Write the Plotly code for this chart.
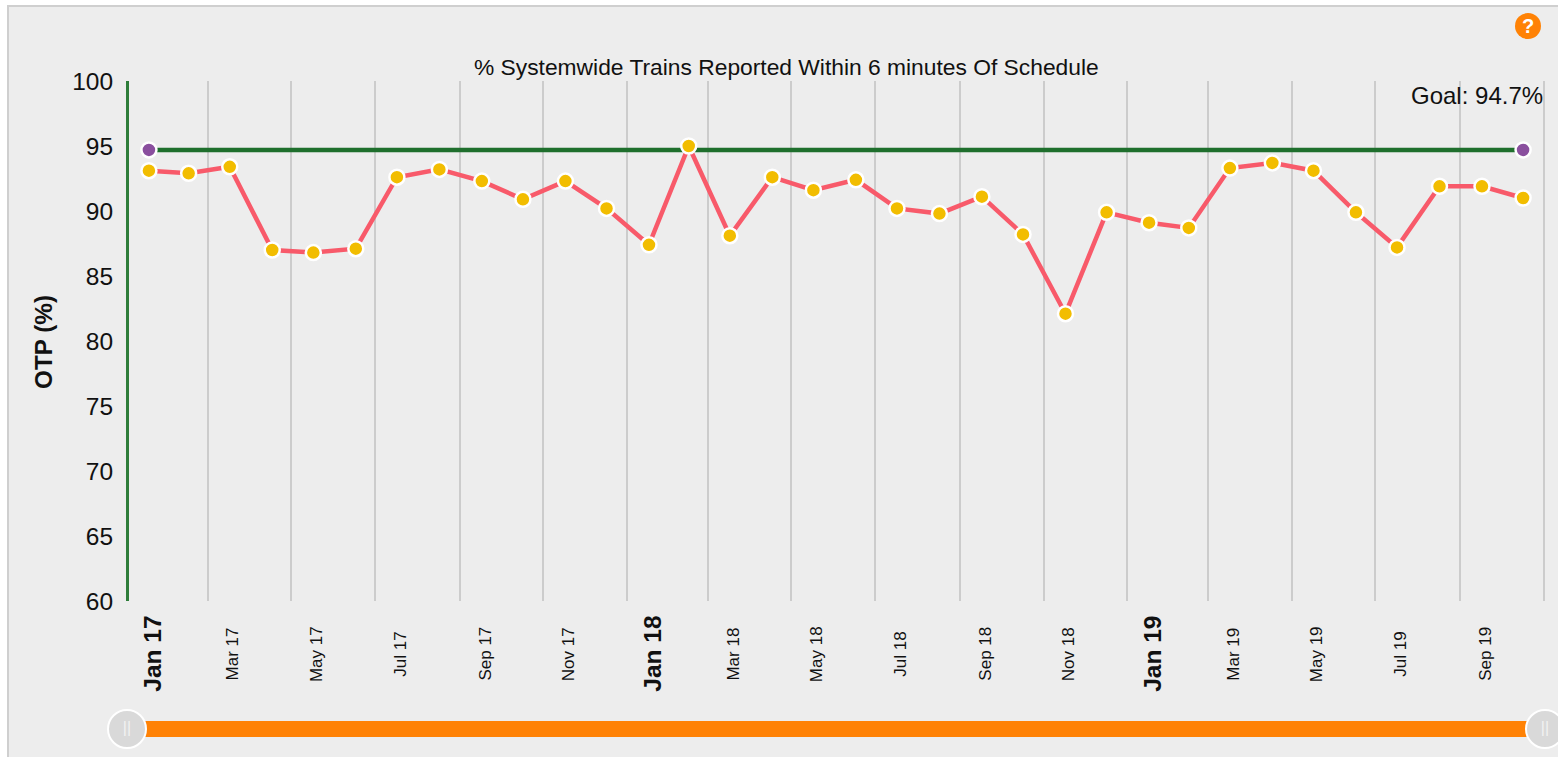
import plotly.graph_objects as go

W, H = 1558, 757
FONT = "Liberation Sans"

# ---- data -------------------------------------------------------------
months = ["2017-01","2017-02","2017-03","2017-04","2017-05","2017-06","2017-07","2017-08","2017-09","2017-10","2017-11","2017-12",
          "2018-01","2018-02","2018-03","2018-04","2018-05","2018-06","2018-07","2018-08","2018-09","2018-10","2018-11","2018-12",
          "2019-01","2019-02","2019-03","2019-04","2019-05","2019-06","2019-07","2019-08","2019-09","2019-10"]
otp = [93.1,92.9,93.4,87.0,86.8,87.1,92.6,93.2,92.3,90.9,92.3,90.2,
       87.4,95.0,88.1,92.6,91.6,92.4,90.2,89.8,91.1,88.2,82.1,89.9,
       89.1,88.7,93.3,93.7,93.1,89.9,87.2,91.9,91.9,91.0]
goal = 94.7
tick_months = ["2017-01","2017-03","2017-05","2017-07","2017-09","2017-11",
               "2018-01","2018-03","2018-05","2018-07","2018-09","2018-11",
               "2019-01","2019-03","2019-05","2019-07","2019-09","2019-11"]
tick_labels = ["Jan 17","Mar 17","May 17","Jul 17","Sep 17","Nov 17",
               "Jan 18","Mar 18","May 18","Jul 18","Sep 18","Nov 18",
               "Jan 19","Mar 19","May 19","Jul 19","Sep 19"]
y_ticks = [60,65,70,75,80,85,90,95,100]
x_start, x_end = "2017-01-01", "2019-11-02"

point_dates = [m + ("-15" if m.endswith("-02") else "-17") for m in months]
tick_dates = [m + "-01" for m in tick_months]
label_dates = [m + "-19" for m in tick_months[:len(tick_labels)]]


def px(v):
    return v / W


def py(v):
    return 1 - v / H


fig = go.Figure()

# goal line
fig.add_trace(go.Scatter(x=[point_dates[0], point_dates[-1]], y=[goal, goal], mode="lines+markers",
                         line=dict(color="#1f6f2d", width=4.5),
                         marker=dict(size=15, color="#8a4f9e", line=dict(color="white", width=2.5)),
                         cliponaxis=False, hoverinfo="skip", showlegend=False))
# series
fig.add_trace(go.Scatter(x=point_dates, y=otp, mode="lines+markers",
                         line=dict(color="#f85a6a", width=4.5),
                         marker=dict(size=15, color="#f2bd00", line=dict(color="white", width=2.5)),
                         cliponaxis=False, showlegend=False))
# range slider look-alike
fig.add_trace(go.Scatter(x=[x_start, x_end], y=[0, 0], xaxis="x2", yaxis="y2", mode="lines",
                         line=dict(color="#ff8205", width=16),
                         cliponaxis=False, hoverinfo="skip", showlegend=False))
fig.add_trace(go.Scatter(x=[x_start, x_end], y=[0, 0], xaxis="x2", yaxis="y2", mode="markers+text",
                         marker=dict(size=38, color="#d9d9d9", line=dict(color="white", width=2)),
                         text=["||", "||"], textposition="middle center",
                         textfont=dict(family=FONT, size=16, color="#f2f2f2"),
                         cliponaxis=False, hoverinfo="skip", showlegend=False))

annotations = [
    dict(text="% Systemwide Trains Reported Within 6 minutes Of Schedule", xref="paper", yref="paper",
         x=px(786), y=py(67), xanchor="center", yanchor="middle", showarrow=False,
         font=dict(family=FONT, size=22.8, color="#111")),
    dict(text="Goal: 94.7%", xref="paper", yref="paper", x=px(1545), y=py(95), xanchor="right", yanchor="middle",
         showarrow=False, font=dict(family=FONT, size=24, color="#111")),
    dict(text="<b>OTP (%)</b>", xref="paper", yref="paper", x=px(43), y=py(342),
         xanchor="center", yanchor="middle", textangle=-90, showarrow=False,
         font=dict(family=FONT, size=24.3, color="#111")),
    dict(text="<b>?</b>", xref="paper", yref="paper", x=px(1528), y=py(26),
         xanchor="center", yanchor="middle", showarrow=False,
         font=dict(family=FONT, size=20, color="white")),
]
for d, t in zip(label_dates, tick_labels):
    major = t.startswith("Jan")
    annotations.append(dict(text=f"<b>{t}</b>" if major else t, x=d, xref="x",
                            y=py(654), yref="paper", xanchor="center", yanchor="middle",
                            textangle=-90, showarrow=False,
                            font=dict(family=FONT, size=24.5 if major else 17, color="#111")))

shapes = [
    dict(type="rect", xref="paper", yref="paper", layer="below",
         x0=px(8), x1=1.05, y0=-0.05, y1=py(6),
         fillcolor="#ededed", line=dict(color="#cfcfcf", width=2)),
    dict(type="circle", xref="paper", yref="paper", layer="above",
         x0=px(1515), x1=px(1541), y0=py(39), y1=py(13),
         fillcolor="#ff8205", line=dict(width=0)),
    dict(type="line", xref="paper", yref="paper", layer="below",
         x0=px(127.5), x1=px(127.5), y0=py(601), y1=py(81),
         line=dict(color="#2e7d3a", width=3)),
]

fig.update_layout(
    width=W, height=H, autosize=False,
    margin=dict(l=0, r=0, t=0, b=0, autoexpand=False),
    paper_bgcolor="white", plot_bgcolor="rgba(0,0,0,0)",
    font=dict(family=FONT, color="#111"),
    xaxis=dict(type="date", range=[x_start, x_end], domain=[px(127), px(1545)], anchor="y",
               tickmode="array", tickvals=tick_dates, showticklabels=False, ticks="",
               showgrid=True, gridcolor="#cccccc", gridwidth=2, zeroline=False, showline=False),
    yaxis=dict(range=[60, 100], domain=[py(601), py(81)], anchor="x",
               tickmode="array", tickvals=y_ticks, ticks="outside", ticklen=8, tickcolor="rgba(0,0,0,0)",
               tickfont=dict(family=FONT, size=24.5, color="#111"),
               showgrid=False, zeroline=False, showline=False),
    xaxis2=dict(type="date", range=[x_start, x_end], domain=[px(127), px(1545)], anchor="y2", visible=False),
    yaxis2=dict(range=[-1, 1], domain=[py(745), py(713)], anchor="x2", visible=False),
    annotations=annotations, shapes=shapes, showlegend=False,
)

fig.write_html("out.html", config=dict(displayModeBar=False),
               post_script="document.body.style.margin='0';document.body.style.overflow='hidden';")
